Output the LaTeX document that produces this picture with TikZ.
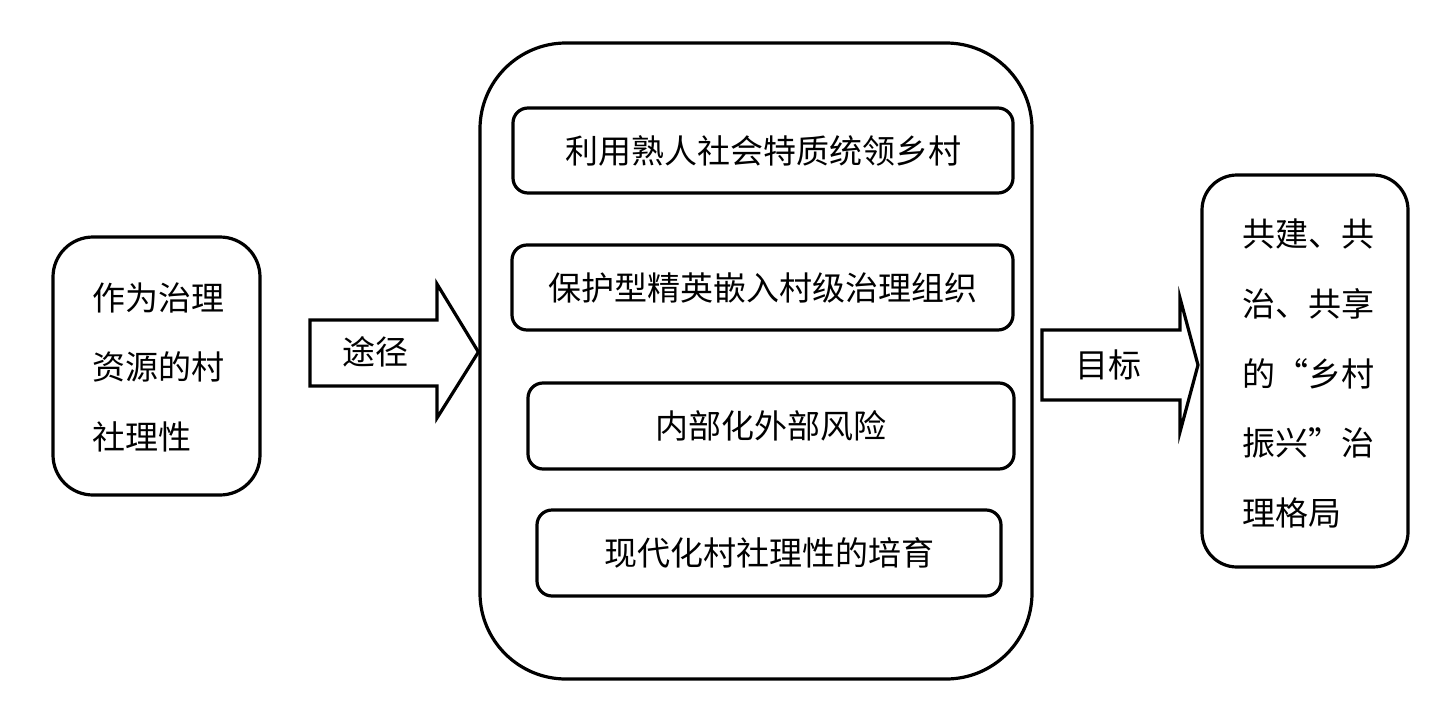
\documentclass[tikz,border=0pt]{standalone}
\usepackage{fontspec}
\newfontfamily\cjk{Noto Sans CJK SC}
\begin{document}
\begin{tikzpicture}[x=1pt,y=-1pt,
  box/.style={draw=black,line width=3.2pt,fill=white,inner sep=0pt,rounded corners=#1},
  box/.default=15pt,
  txt/.style={inner sep=0pt,font=\cjk\fontsize{33}{40}\selectfont},
  blockarrow/.style={draw=black,line width=3.2pt,fill=white,line join=miter}]
\useasboundingbox[fill=white] (0,0) rectangle (1454,726);
% left box
\node[box=40pt,minimum width=207pt,minimum height=258pt] (src) at (156.5,366) {};
\node[txt,anchor=west] (s1) at (92,298) {作为治理};
\node[txt,anchor=west] (s2) at (92,367) {资源的村};
\node[txt,anchor=west] (s3) at (92,437) {社理性};
% big box
\node[box=86pt,minimum width=552pt,minimum height=636pt] (big) at (756,361) {};
\node[box,minimum width=500pt,minimum height=85pt,txt] (p1) at (763,150.5) {利用熟人社会特质统领乡村};
\node[box,minimum width=501pt,minimum height=85pt,txt] (p2) at (762.5,287.5) {保护型精英嵌入村级治理组织};
\node[box,minimum width=486pt,minimum height=86pt,txt] (p3) at (771,426) {内部化外部风险};
\node[box,minimum width=464pt,minimum height=86pt,txt] (p4) at (769,553) {现代化村社理性的培育};
% right box
\node[box=35pt,minimum width=206pt,minimum height=392pt] (goal) at (1305,371) {};
\node[txt,anchor=west] (g1) at (1242,234) {共建、共};
\node[txt,anchor=west] (g2) at (1242,304) {治、共享};
\node[txt,anchor=west] (g3) at (1242,374) {的\makebox[1em][r]{“}乡村};
\node[txt,anchor=west] (g4) at (1242,443) {振兴\makebox[1em][l]{”}治};
\node[txt,anchor=west] (g5) at (1242,513) {理格局};
% arrow 1
\coordinate (t1) at (big.west |- 0,352);
\draw[blockarrow] (310,320) -- (437,320) -- (437,284) -- (t1) -- (437,418) -- (437,386) -- (310,386) -- cycle;
\node[txt] (l1) at (375,352) {途径};
% arrow 2
\coordinate (t2) at (1198,365);
\draw[blockarrow] (1042,330) -- (1180,330) -- (1180,298) -- (t2) -- (1180,432) -- (1180,400) -- (1042,400) -- cycle;
\node[txt] (l2) at (1108,365) {目标};
\end{tikzpicture}
\end{document}
